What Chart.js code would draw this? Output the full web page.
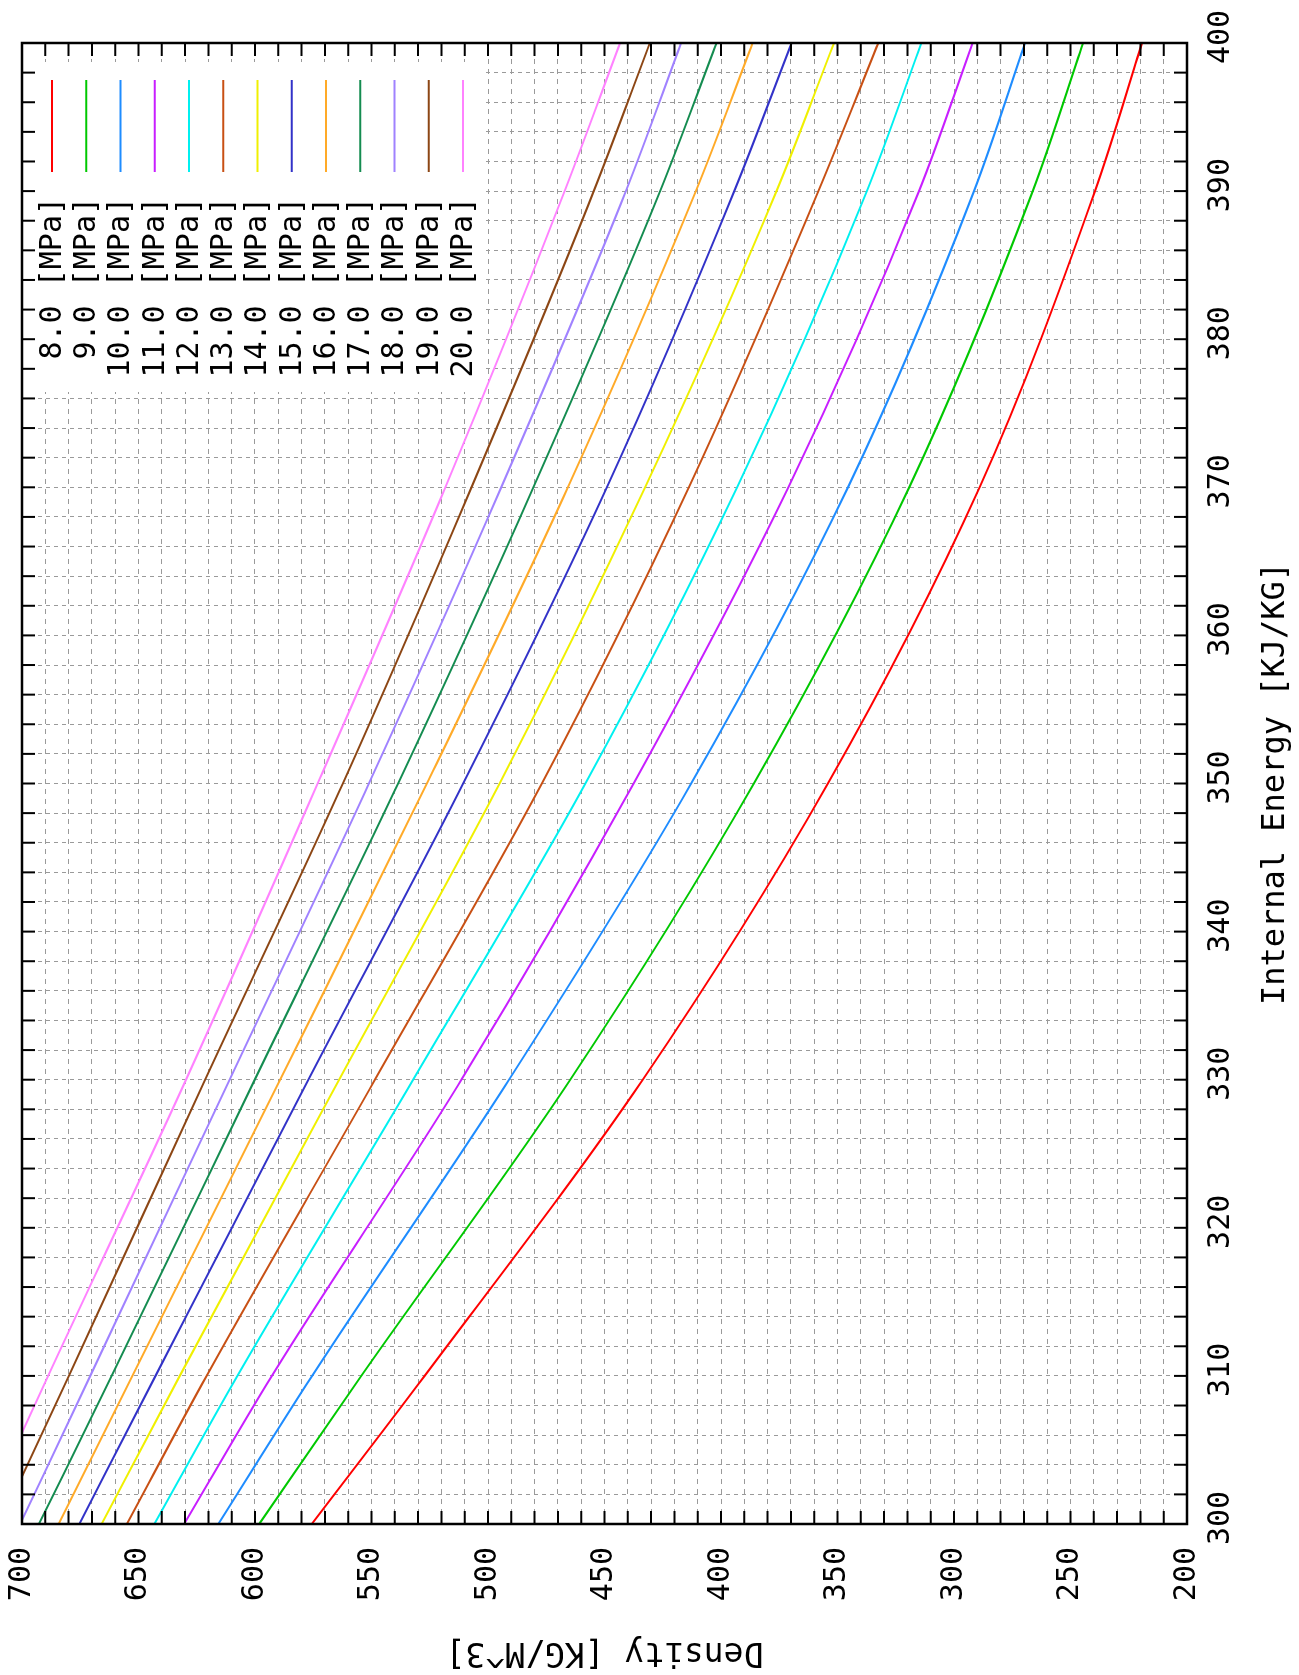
<!DOCTYPE html>
<html>
<head>
<meta charset="utf-8">
<script src="https://cdn.jsdelivr.net/npm/chart.js@4.4.0/dist/chart.umd.min.js"></script>
<style>
  html, body { margin: 0; padding: 0; background: #fff; overflow: hidden; }
  #wrap { position: relative; width: 1299px; height: 1675px; overflow: hidden; background: #fff; }
  /* chart is drawn upright, then turned a quarter left like the reference */
  #chart { position: absolute; left: 0; top: 0; transform-origin: 0 0; transform: translate(0, 1675px) rotate(-90deg); }
</style>
</head>
<body>
<div id="wrap"><canvas id="chart" width="1675" height="1299"></canvas></div>
<script>
// ==========================
// Density vs internal energy, isobars 8..20 MPa
// ==========================

const energy = [300, 310, 330, 350, 370, 390, 400];

const p8  = [575.6, 527.2, 433.6, 354.1, 289.0, 239.5, 219.3];
const p9  = [598.2, 554.4, 464.7, 385.9, 319.2, 266.2, 244.6];
const p10 = [615.7, 575.5, 491.0, 412.8, 345.5, 291.4, 269.5];
const p11 = [630.4, 592.8, 511.4, 437.5, 371.1, 315.0, 292.0];
const p12 = [643.2, 607.6, 532.1, 458.2, 393.1, 337.4, 314.0];
const p13 = [655.0, 620.8, 548.5, 476.9, 413.8, 358.2, 332.5];
const p14 = [665.8, 632.3, 563.9, 495.0, 432.6, 376.2, 351.5];
const p15 = [675.4, 642.7, 577.1, 510.7, 449.0, 394.3, 369.7];
const p16 = [684.3, 652.6, 589.2, 526.2, 465.7, 410.8, 386.4];
const p17 = [692.7, 661.5, 600.1, 538.6, 480.5, 426.1, 401.9];
const p18 = [700.8, 670.7, 610.9, 551.1, 494.3, 440.8, 417.1];
const p19 = [709.5, 679.9, 621.4, 562.3, 507.1, 454.6, 430.5];
const p20 = [718.0, 688.8, 629.6, 573.1, 518.3, 467.1, 443.3];

const labels = ["8.0 [MPa]", "9.0 [MPa]", "10.0 [MPa]", "11.0 [MPa]", "12.0 [MPa]", "13.0 [MPa]",
  "14.0 [MPa]", "15.0 [MPa]", "16.0 [MPa]", "17.0 [MPa]", "18.0 [MPa]", "19.0 [MPa]", "20.0 [MPa]"];
const colors = ["#ff0000", "#00c800", "#1e8cff", "#c81eff", "#00f0f0", "#c85014", "#f0f000",
  "#3232c8", "#ffaa28", "#148c50", "#a082ff", "#8c4614", "#ff82ff"];
const series = [p8, p9, p10, p11, p12, p13, p14, p15, p16, p17, p18, p19, p20];

const FONT = '"DejaVu Sans Mono", "Liberation Mono", monospace';

const datasets = series.map((vals, i) => ({
  label: labels[i],
  data: energy.map((e, j) => ({ x: e, y: vals[j] })),
  borderColor: colors[i],
  backgroundColor: colors[i],
  borderWidth: 2,
  pointRadius: 0,
  showLine: true,
  fill: false,
  cubicInterpolationMode: "monotone"
}));

// white legend box inside the plot, text then a line sample
const legendBox = {
  id: "legendBox",
  beforeDatasetsDraw(chart) {
    const ctx = chart.ctx;
    ctx.save();
    ctx.fillStyle = "#fff";
    ctx.fillRect(1283, 24, 330, 458);
    ctx.font = "30px " + FONT;
    ctx.textAlign = "right";
    ctx.textBaseline = "middle";
    chart.data.datasets.forEach((ds, i) => {
      const v = 52 + 34.25 * i;
      ctx.fillStyle = "#000";
      ctx.fillText(ds.label, 1478, v + 1);
      ctx.strokeStyle = ds.borderColor;
      ctx.lineWidth = 2;
      ctx.beginPath();
      ctx.moveTo(1503, v);
      ctx.lineTo(1595, v);
      ctx.stroke();
    });
    ctx.restore();
  }
};

// frame with inward tick marks on all four sides
const frameTicks = {
  id: "frameTicks",
  afterDatasetsDraw(chart) {
    const ctx = chart.ctx;
    const a = chart.chartArea;
    const xs = chart.scales.x, ys = chart.scales.y;
    const len = 13;
    ctx.save();
    ctx.strokeStyle = "#000";
    ctx.lineWidth = 2;
    ctx.beginPath();
    xs.ticks.forEach(t => {
      const px = xs.getPixelForValue(t.value);
      ctx.moveTo(px, a.bottom); ctx.lineTo(px, a.bottom - len);
      ctx.moveTo(px, a.top); ctx.lineTo(px, a.top + len);
    });
    ys.ticks.forEach(t => {
      const py = ys.getPixelForValue(t.value);
      ctx.moveTo(a.left, py); ctx.lineTo(a.left + len, py);
      ctx.moveTo(a.right, py); ctx.lineTo(a.right - len, py);
    });
    ctx.stroke();
    ctx.lineWidth = 2.5;
    ctx.strokeRect(a.left, a.top, a.right - a.left, a.bottom - a.top);
    ctx.restore();
  }
};

new Chart(document.getElementById("chart"), {
  type: "scatter",
  data: { datasets: datasets },
  options: {
    responsive: false,
    animation: false,
    layout: { padding: { left: 0, right: 43, top: 22, bottom: 0 } },
    plugins: {
      legend: { display: false },
      tooltip: { enabled: false }
    },
    scales: {
      x: {
        type: "linear",
        min: 300,
        max: 400,
        afterFit: s => { s.height = 112; s.paddingLeft = 0; s.paddingRight = 0; },
        grid: { color: "#9a9a9a", lineWidth: 1, drawTicks: false },
        border: { display: false, dash: [4, 4] },
        ticks: {
          stepSize: 2,
          autoSkip: false,
          minRotation: 0,
          maxRotation: 0,
          padding: 16,
          labelOffset: 6,
          color: "#000",
          font: { family: FONT, size: 30 },
          callback: v => (v % 10 === 0 ? String(v) : "")
        },
        title: {
          display: true,
          text: "Internal Energy [KJ/KG]",
          color: "#000",
          font: { family: FONT, size: 32 },
          padding: { top: 0, bottom: 4 }
        }
      },
      y: {
        type: "linear",
        min: 200,
        max: 700,
        afterFit: s => { s.width = 151; s.paddingTop = 0; s.paddingBottom = 0; },
        grid: { color: "#9a9a9a", lineWidth: 1, drawTicks: false },
        border: { display: false, dash: [5, 5] },
        ticks: {
          stepSize: 10,
          autoSkip: false,
          padding: 23,
          color: "#000",
          font: { family: FONT, size: 30 },
          callback: v => (v % 50 === 0 ? String(v) : "")
        },
        title: {
          display: true,
          text: "Density [KG/M^3]",
          color: "#000",
          font: { family: FONT, size: 33 },
          padding: { top: 4, bottom: 0 }
        }
      }
    }
  },
  plugins: [legendBox, frameTicks]
});
</script>
</body>
</html>
